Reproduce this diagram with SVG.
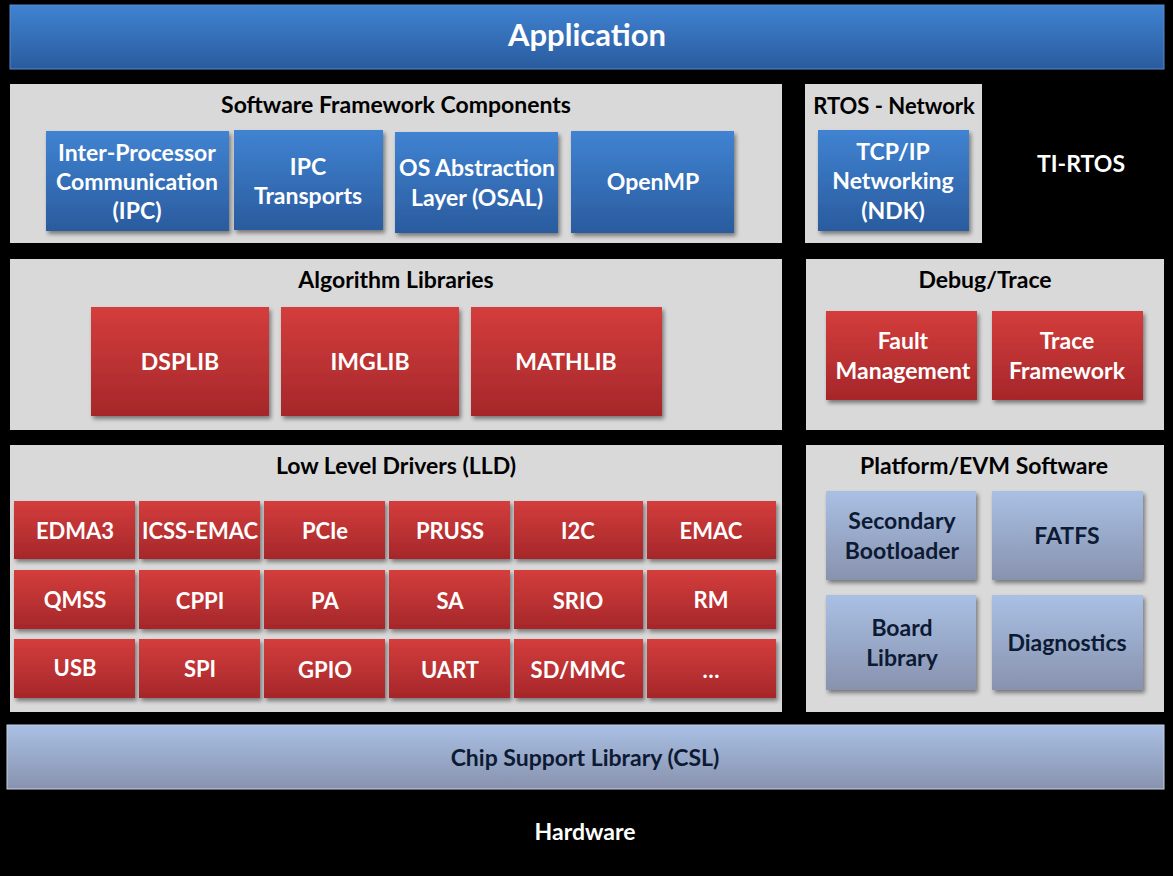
<svg xmlns="http://www.w3.org/2000/svg" width="1173" height="876" viewBox="0 0 1173 876">
<defs>
<linearGradient id="gBlue" x1="0" y1="0" x2="0" y2="1"><stop offset="0" stop-color="#4083d2"/><stop offset="1" stop-color="#2a5b9e"/></linearGradient>
<linearGradient id="gRed" x1="0" y1="0" x2="0" y2="1"><stop offset="0" stop-color="#d43d3c"/><stop offset="1" stop-color="#a5272a"/></linearGradient>
<linearGradient id="gLight" x1="0" y1="0" x2="0" y2="1"><stop offset="0" stop-color="#a9c0e4"/><stop offset="1" stop-color="#8892ae"/></linearGradient>
<filter id="sh" x="-10%" y="-10%" width="125%" height="130%"><feDropShadow dx="2" dy="3" stdDeviation="2" flood-color="#000" flood-opacity="0.45"/></filter>
</defs>
<style>
text{font-family:Lato,"Open Sans","Liberation Sans",sans-serif;font-weight:bold;text-anchor:middle;dominant-baseline:central}
.panel{fill:#d9d9d9}
.title{font-size:23px;fill:#000}
.w{font-size:23px;fill:#fff}
.s{font-size:22px;fill:#fff}
.d{font-size:23px;fill:#0d1a33}
.blue{fill:url(#gBlue);filter:url(#sh)}
.red{fill:url(#gRed);filter:url(#sh)}
.light{fill:url(#gLight);filter:url(#sh)}
</style>
<rect x="0" y="0" width="1173" height="876" fill="#000"/>

<g id="application">
<rect x="10" y="5" width="1154" height="64" fill="url(#gBlue)" stroke="#5a88c8" stroke-width="1"/>
<text x="587" y="34" style="font-size:31px;fill:#fff">Application</text>
</g>

<g id="sw-framework">
<rect class="panel" x="10" y="84" width="772" height="159"/>
<text class="title" x="396" y="104">Software Framework Components</text>
</g>
<g id="ipc"><rect class="blue" x="46" y="131" width="183" height="100"/>
<text class="w" x="137" y="152">Inter-Processor</text><text class="w" x="137" y="181">Communication</text><text class="w" x="137" y="210">(IPC)</text></g>
<g id="ipc-transports"><rect class="blue" x="234" y="130" width="149" height="100"/>
<text class="w" x="308" y="166">IPC</text><text class="w" x="308" y="195">Transports</text></g>
<g id="osal"><rect class="blue" x="395" y="132" width="163" height="101"/>
<text class="w" x="477" y="167">OS Abstraction</text><text class="w" x="477" y="197">Layer (OSAL)</text></g>
<g id="openmp"><rect class="blue" x="571" y="131" width="163" height="102"/>
<text class="w" x="653" y="181">OpenMP</text></g>

<g id="rtos-network">
<rect class="panel" x="805" y="84" width="177" height="159"/>
<text class="title" x="894" y="105" style="font-size:22px">RTOS - Network</text>
</g>
<g id="ndk"><rect class="blue" x="818" y="130" width="151" height="101"/>
<text class="w" x="893" y="151">TCP/IP</text><text class="w" x="893" y="180">Networking</text><text class="w" x="893" y="210">(NDK)</text></g>

<g id="ti-rtos"><text class="w" x="1081" y="163">TI-RTOS</text></g>

<g id="algorithm-libraries">
<rect class="panel" x="10" y="259" width="772" height="171"/>
<text class="title" x="396" y="279">Algorithm Libraries</text>
</g>
<g id="dsplib"><rect class="red" x="91" y="307" width="178" height="109"/><text class="w" x="180" y="361">DSPLIB</text></g>
<g id="imglib"><rect class="red" x="281" y="307" width="178" height="109"/><text class="w" x="370" y="361">IMGLIB</text></g>
<g id="mathlib"><rect class="red" x="471" y="307" width="191" height="109"/><text class="w" x="566" y="361">MATHLIB</text></g>

<g id="debug-trace">
<rect class="panel" x="806" y="259" width="358" height="171"/>
<text class="title" x="985" y="279">Debug/Trace</text>
</g>
<g id="fault-mgmt"><rect class="red" x="826" y="311" width="151" height="89"/>
<text class="w" x="903" y="340">Fault</text><text class="w" x="903" y="370">Management</text></g>
<g id="trace-fw"><rect class="red" x="992" y="311" width="151" height="89"/>
<text class="w" x="1067" y="340">Trace</text><text class="w" x="1067" y="370">Framework</text></g>

<g id="lld">
<rect class="panel" x="10" y="445" width="772" height="267"/>
<text class="title" x="396" y="465">Low Level Drivers (LLD)</text>
</g>
<g id="edma3"><rect class="red" x="14" y="501" width="121" height="58"/><text class="s" x="75" y="530">EDMA3</text></g>
<g id="icss-emac"><rect class="red" x="139" y="501" width="121" height="58"/><text class="s" x="200" y="530">ICSS-EMAC</text></g>
<g id="pcie"><rect class="red" x="264" y="501" width="121" height="58"/><text class="s" x="325" y="530">PCIe</text></g>
<g id="pruss"><rect class="red" x="389" y="501" width="121" height="58"/><text class="s" x="450" y="530">PRUSS</text></g>
<g id="i2c"><rect class="red" x="514" y="501" width="129" height="58"/><text class="s" x="578" y="530">I2C</text></g>
<g id="emac"><rect class="red" x="647" y="501" width="129" height="58"/><text class="s" x="711" y="530">EMAC</text></g>
<g id="qmss"><rect class="red" x="14" y="570" width="121" height="59"/><text class="s" x="75" y="599">QMSS</text></g>
<g id="cppi"><rect class="red" x="139" y="570" width="121" height="59"/><text class="s" x="200" y="600">CPPI</text></g>
<g id="pa"><rect class="red" x="264" y="570" width="121" height="59"/><text class="s" x="325" y="600">PA</text></g>
<g id="sa"><rect class="red" x="389" y="570" width="121" height="59"/><text class="s" x="450" y="600">SA</text></g>
<g id="srio"><rect class="red" x="514" y="570" width="129" height="59"/><text class="s" x="578" y="600">SRIO</text></g>
<g id="rm"><rect class="red" x="647" y="570" width="129" height="59"/><text class="s" x="711" y="599">RM</text></g>
<g id="usb"><rect class="red" x="14" y="639" width="121" height="59"/><text class="s" x="75" y="667">USB</text></g>
<g id="spi"><rect class="red" x="139" y="639" width="121" height="59"/><text class="s" x="200" y="668">SPI</text></g>
<g id="gpio"><rect class="red" x="264" y="639" width="121" height="59"/><text class="s" x="325" y="669">GPIO</text></g>
<g id="uart"><rect class="red" x="389" y="639" width="121" height="59"/><text class="s" x="450" y="669">UART</text></g>
<g id="sdmmc"><rect class="red" x="514" y="639" width="129" height="59"/><text class="s" x="578" y="669">SD/MMC</text></g>
<g id="more"><rect class="red" x="647" y="639" width="129" height="59"/><text class="s" x="711" y="669">…</text></g>

<g id="platform">
<rect class="panel" x="806" y="445" width="358" height="267"/>
<text class="title" x="984" y="465">Platform/EVM Software</text>
</g>
<g id="sbl"><rect class="light" x="826" y="491" width="150" height="89"/>
<text class="d" x="902" y="520">Secondary</text><text class="d" x="902" y="550">Bootloader</text></g>
<g id="fatfs"><rect class="light" x="992" y="491" width="151" height="89"/><text class="d" x="1067" y="535">FATFS</text></g>
<g id="board-lib"><rect class="light" x="826" y="595" width="150" height="95"/>
<text class="d" x="902" y="627">Board</text><text class="d" x="902" y="657">Library</text></g>
<g id="diagnostics"><rect class="light" x="992" y="595" width="151" height="95"/><text class="d" x="1067" y="642">Diagnostics</text></g>

<g id="csl">
<rect x="7" y="725" width="1157" height="64" fill="url(#gLight)" stroke="#c8d0e0" stroke-width="1"/>
<text class="d" x="585" y="757">Chip Support Library (CSL)</text>
</g>

<g id="hardware"><text class="w" x="585" y="831">Hardware</text></g>

<g id="connectors"/>
</svg>
